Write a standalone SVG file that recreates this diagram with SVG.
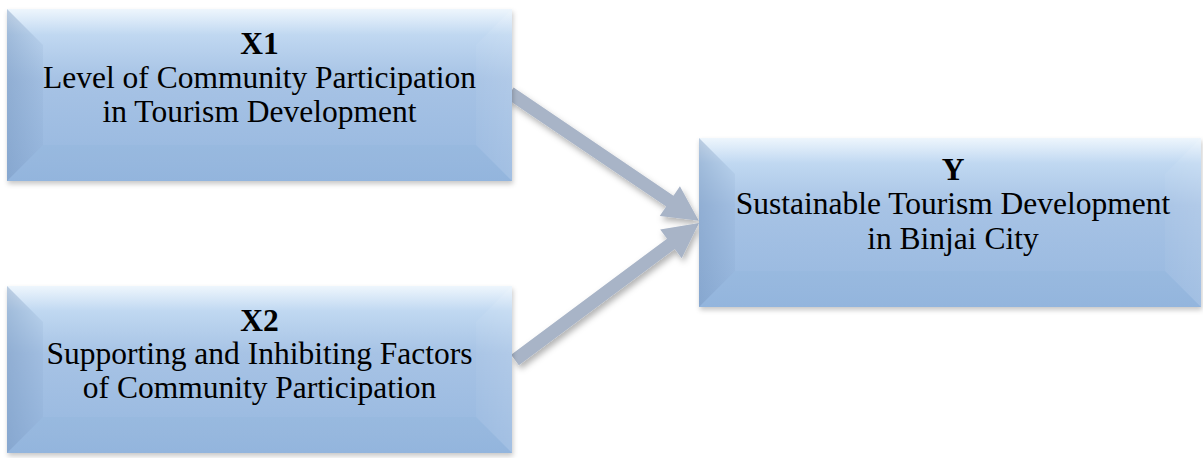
<svg xmlns="http://www.w3.org/2000/svg" width="1203" height="458" viewBox="0 0 1203 458">
<defs>
<linearGradient id="face" x1="0" y1="0" x2="0" y2="1">
<stop offset="0" stop-color="#eef6fd"/>
<stop offset="0.15" stop-color="#c0d8f1"/>
<stop offset="0.4" stop-color="#a7c3e5"/>
<stop offset="1" stop-color="#96b7df"/>
</linearGradient>
<linearGradient id="leftB" x1="0" y1="0" x2="1" y2="0">
<stop offset="0" stop-color="#6f8fb8" stop-opacity="0.4"/>
<stop offset="1" stop-color="#6f8fb8" stop-opacity="0.1"/>
</linearGradient>
<linearGradient id="rightB" x1="1" y1="0" x2="0" y2="0">
<stop offset="0" stop-color="#ffffff" stop-opacity="0.12"/>
<stop offset="1" stop-color="#ffffff" stop-opacity="0.04"/>
</linearGradient>
<filter id="sh" x="-10%" y="-10%" width="120%" height="130%">
<feDropShadow dx="1" dy="3" stdDeviation="2.5" flood-color="#000" flood-opacity="0.22"/>
</filter>
<filter id="ash" x="-20%" y="-30%" width="140%" height="160%">
<feDropShadow dx="2" dy="4" stdDeviation="3" flood-color="#000" flood-opacity="0.3"/>
</filter>
</defs>
<style>
.t{font-family:"Liberation Serif","Times New Roman",serif;font-size:31.5px;fill:#000;text-anchor:middle}
.b{font-weight:bold}
.arr{fill:#a8b4c7}
.face{fill:url(#face)}
.lb{fill:url(#leftB)}
.rb{fill:url(#rightB)}
.bb{fill:#89acd8;opacity:0.15}
</style>
<g id="connectors" filter="url(#ash)">
<path class="arr" transform="translate(510,93) rotate(34.1)" d="M0,-6.5 L193,-6.5 L193,-18 L228,0 L193,18 L193,6.5 L0,6.5 Z"/>
<path class="arr" transform="translate(515,360) rotate(-36.67)" d="M0,-6.5 L194.4,-6.5 L194.4,-18 L229.4,0 L194.4,18 L194.4,6.5 L0,6.5 Z"/>
</g>
<g id="X1">
<g filter="url(#sh)">
<rect class="face" x="7" y="9" width="505" height="172"/>
</g>
<polygon class="lb" points="7,9 43,45 43,145 7,181"/>
<polygon class="rb" points="512,9 476,45 476,145 512,181"/>
<polygon class="bb" points="7,181 43,145 476,145 512,181"/>
<text class="t b" x="259.5" y="54">X1</text>
<text class="t" x="259.5" y="88">Level of Community Participation</text>
<text class="t" x="259.5" y="122">in Tourism Development</text>
</g>
<g id="X2">
<g filter="url(#sh)">
<rect class="face" x="7" y="286" width="505" height="167"/>
</g>
<polygon class="lb" points="7,286 43,322 43,417 7,453"/>
<polygon class="rb" points="512,286 476,322 476,417 512,453"/>
<polygon class="bb" points="7,453 43,417 476,417 512,453"/>
<text class="t b" x="259.5" y="331">X2</text>
<text class="t" x="259.5" y="364">Supporting and Inhibiting Factors</text>
<text class="t" x="259.5" y="398">of Community Participation</text>
</g>
<g id="Y">
<g filter="url(#sh)">
<rect class="face" x="699" y="138" width="502" height="169"/>
</g>
<polygon class="lb" points="699,138 735,174 735,271 699,307"/>
<polygon class="rb" points="1201,138 1165,174 1165,271 1201,307"/>
<polygon class="bb" points="699,307 735,271 1165,271 1201,307"/>
<text class="t b" x="953" y="180">Y</text>
<text class="t" x="953" y="214">Sustainable Tourism Development</text>
<text class="t" x="953" y="249">in Binjai City</text>
</g>
</svg>
